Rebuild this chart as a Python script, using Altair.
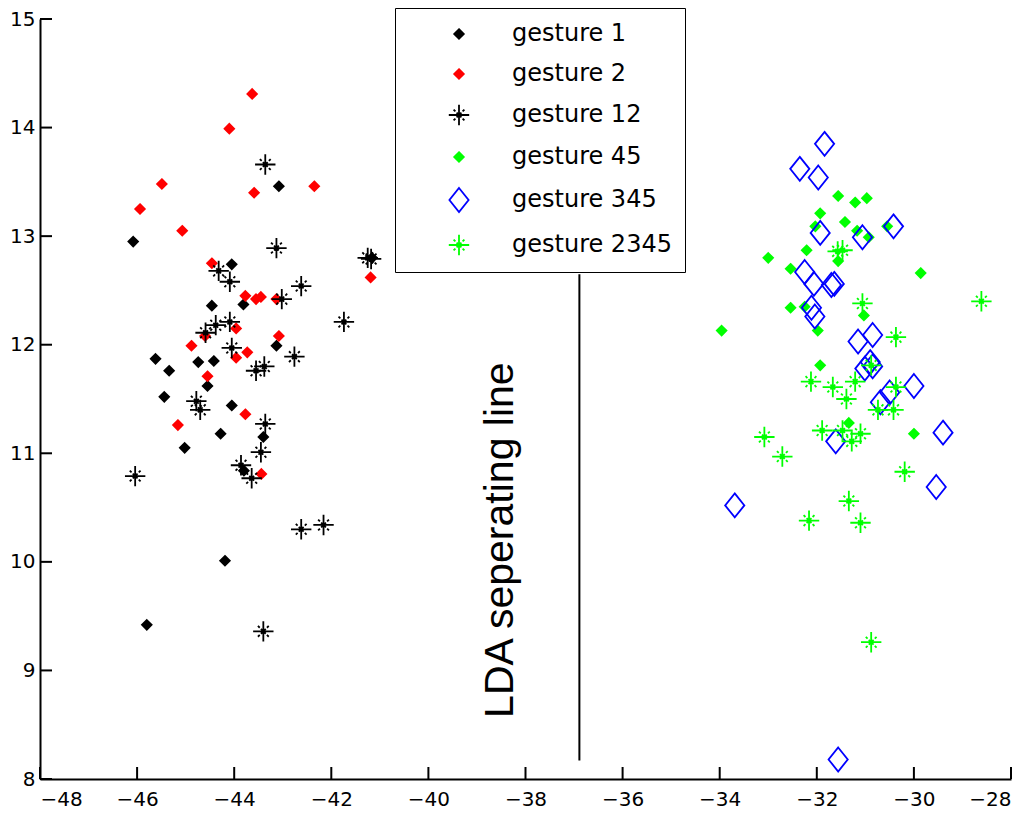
import altair as alt
import pandas as pd

# series values
g1_x = [-43.08, -46.08, -44.05, -41.16, -44.46, -43.81, -43.13, -45.62, -44.74, -44.42,
        -45.34, -44.55, -45.44, -44.05, -43.40, -44.28, -45.02, -43.80, -44.19, -45.80]
g1_y = [13.46, 12.95, 12.74, 12.80, 12.36, 12.37, 11.99, 11.87, 11.84, 11.85,
        11.76, 11.62, 11.52, 11.44, 11.15, 11.18, 11.05, 10.84, 10.01, 9.42]

g2_x = [-43.63, -44.10, -45.49, -42.35, -43.59, -45.94, -45.07, -44.46, -41.19, -43.77,
        -43.55, -43.45, -43.13, -43.96, -44.60, -43.08, -44.88, -43.73, -43.96, -44.55,
        -45.16, -43.77, -43.44]
g2_y = [14.31, 13.99, 13.48, 13.46, 13.40, 13.25, 13.05, 12.75, 12.62, 12.45,
        12.42, 12.44, 12.42, 12.15, 12.08, 12.08, 11.99, 11.93, 11.88, 11.71,
        11.26, 11.36, 10.81]

g12_x = [-43.36, -43.13, -41.25, -41.18, -44.32, -44.09, -42.62, -43.02, -41.74, -44.09,
         -44.38, -44.59, -44.05, -42.76, -43.55, -43.38, -44.78, -44.70, -43.36, -43.45,
         -43.86, -43.64, -46.04, -42.62, -42.16, -43.40]
g12_y = [13.66, 12.89, 12.80, 12.79, 12.68, 12.58, 12.54, 12.42, 12.21, 12.21,
         12.18, 12.11, 11.97, 11.89, 11.76, 11.80, 11.48, 11.40, 11.27, 11.01,
         10.89, 10.77, 10.79, 10.30, 10.34, 9.36]

g45_x = [-31.56, -31.21, -30.97, -31.93, -31.42, -32.03, -31.17, -30.55, -30.93, -32.21,
         -31.56, -33.00, -32.54, -29.86, -32.54, -32.25, -31.03, -31.98, -33.96, -31.93,
         -31.34, -30.00]
g45_y = [13.37, 13.31, 13.35, 13.21, 13.13, 13.09, 13.05, 13.09, 12.99, 12.87,
         12.77, 12.80, 12.70, 12.66, 12.34, 12.35, 12.27, 12.13, 12.13, 11.81,
         11.28, 11.18]

g345_x = [-31.84, -32.35, -31.97, -31.93, -30.42, -31.06, -32.25, -32.06, -31.70, -31.64,
          -32.11, -32.04, -31.15, -30.85, -30.90, -31.01, -30.85, -30.00, -30.50, -30.69,
          -31.61, -29.40, -29.54, -33.69, -31.56]
g345_y = [13.85, 13.62, 13.54, 13.03, 13.09, 12.99, 12.67, 12.56, 12.55, 12.56,
          12.34, 12.26, 12.03, 12.09, 11.84, 11.78, 11.80, 11.62, 11.56, 11.47,
          11.11, 11.19, 10.69, 10.52, 8.18]

g2345_x = [-31.47, -31.57, -31.06, -28.61, -30.37, -30.88, -32.12, -31.67, -31.21, -31.39,
           -30.37, -30.74, -30.42, -31.89, -31.47, -31.10, -31.28, -33.08, -32.71, -30.19,
           -31.34, -32.16, -31.10, -30.88]
g2345_y = [12.87, 12.86, 12.38, 12.40, 12.07, 11.81, 11.66, 11.61, 11.66, 11.50,
           11.61, 11.40, 11.40, 11.21, 11.21, 11.18, 11.11, 11.15, 10.97, 10.83,
           10.56, 10.38, 10.36, 9.26]

names = ['gesture 1', 'gesture 2', 'gesture 12', 'gesture 45', 'gesture 345', 'gesture 2345']
series = [(g1_x, g1_y), (g2_x, g2_y), (g12_x, g12_y),
          (g45_x, g45_y), (g345_x, g345_y), (g2345_x, g2345_y)]

x_ticks = list(range(-48, -27, 2))
y_ticks = list(range(8, 16))

line_x = [-36.89]
line_y = [8.17]
line_y2 = [12.65]
label_x = [-38.51]
label_y = [10.20]

rows = []
for name, (xs, ys) in zip(names, series):
    for x, y in zip(xs, ys):
        rows.append({'x': x, 'y': y, 'gesture': name})
df = pd.DataFrame(rows)

dot = 'M0,-0.4L0.4,0L0,0.4L-0.4,0Z'
star = ('M-0.85,0L0.85,0M0,-0.85L0,0.85M-0.2,-0.2L0.2,0.2M-0.2,0.2L0.2,-0.2'
        'M-0.45,-0.45L-0.3,-0.3M0.45,0.45L0.3,0.3M-0.45,0.45L-0.3,0.3M0.45,-0.45L0.3,-0.3')
diamond = 'M0,-1L0.8,0L0,1L-0.8,0Z'

shapes = [dot, dot, star, dot, diamond, star]
strokes = ['#000000', '#ff0000', '#000000', '#00ff00', '#0000ff', '#00ff00']
fills = ['#000000', '#ff0000', 'transparent', '#00ff00', 'transparent', 'transparent']

W, H = 971, 760
xscale = alt.Scale(domain=[-48, -28], nice=False, zero=False)
yscale = alt.Scale(domain=[8, 15], nice=False, zero=False)
font = 'DejaVu Sans'

legend = alt.Legend(title=None, orient='none', legendX=355, legendY=-11,
                    strokeColor='black', fillColor='white', padding=13,
                    symbolOffset=38, labelOffset=40, rowPadding=15,
                    labelFont=font, labelFontSize=24, labelColor='black',
                    symbolSize=576, symbolStrokeWidth=1.8, labelLimit=0)

axis_style = dict(title=None, grid=False, ticks=False, format='d',
                  domainColor='black', domainWidth=2, labelFont=font,
                  labelFontSize=20, labelColor='black')

points = alt.Chart(df).mark_point(opacity=1, strokeWidth=1.8, size=576).encode(
    x=alt.X('x:Q', scale=xscale,
            axis=alt.Axis(values=x_ticks, labelPadding=10, **axis_style)),
    y=alt.Y('y:Q', scale=yscale,
            axis=alt.Axis(values=y_ticks, labelPadding=5, **axis_style)),
    shape=alt.Shape('gesture:N', scale=alt.Scale(domain=names, range=shapes), legend=legend),
    stroke=alt.Stroke('gesture:N', scale=alt.Scale(domain=names, range=strokes), legend=legend),
    fill=alt.Fill('gesture:N', scale=alt.Scale(domain=names, range=fills), legend=legend),
)

# inward ticks, 12 px long in data units
xt = alt.Chart(pd.DataFrame({'v': x_ticks})).mark_rule(
    color='black', strokeWidth=2).encode(
    x=alt.X('v:Q', scale=xscale), y=alt.datum(8), y2=alt.datum(8 + 12 * 7 / H))
yt = alt.Chart(pd.DataFrame({'v': y_ticks})).mark_rule(
    color='black', strokeWidth=2).encode(
    y=alt.Y('v:Q', scale=yscale), x=alt.datum(-48), x2=alt.datum(-48 + 12 * 20 / W))

sep = alt.Chart(pd.DataFrame({'x': line_x, 'y': line_y, 'y2': line_y2})).mark_rule(
    color='black', strokeWidth=2).encode(
    x=alt.X('x:Q', scale=xscale), y=alt.Y('y:Q', scale=yscale), y2='y2:Q')

txt = alt.Chart(pd.DataFrame({'x': label_x, 'y': label_y,
                              't': ['LDA seperating line']})).mark_text(
    angle=270, fontSize=41, font='Liberation Sans', align='center',
    baseline='middle', color='black').encode(
    x=alt.X('x:Q', scale=xscale), y=alt.Y('y:Q', scale=yscale), text='t:N')

chart = alt.layer(sep, txt, xt, yt, points).properties(
    width=W, height=H, autosize='none',
    padding={'left': 32, 'top': 11, 'right': 5, 'bottom': 36},
).configure_view(stroke=None)

chart.save('out.html', embed_options={'renderer': 'svg', 'actions': False})
